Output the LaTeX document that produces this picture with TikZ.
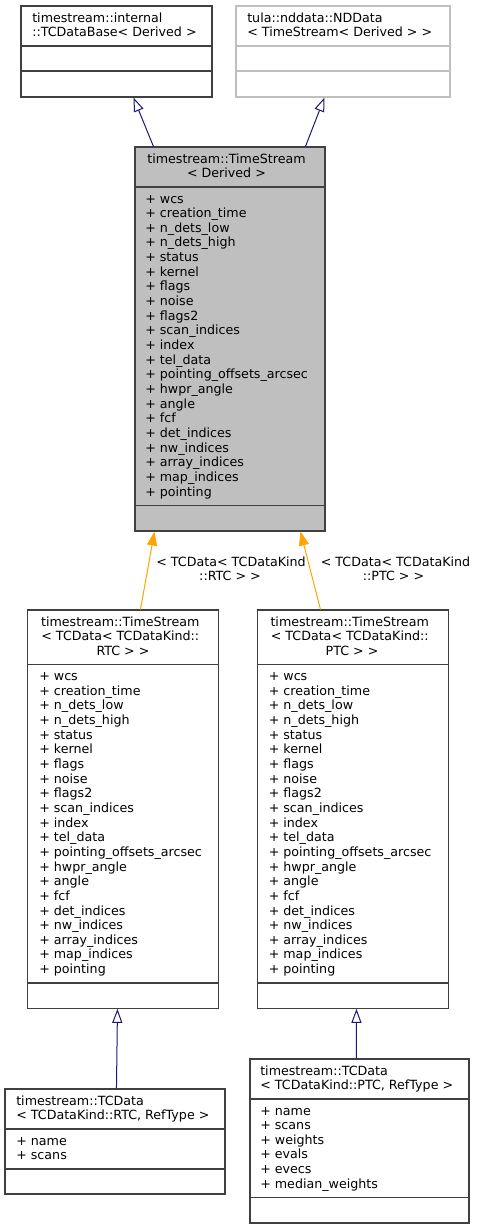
\documentclass[tikz,border=0pt]{standalone}
\usepackage{fontspec}
\setmainfont{DejaVu Sans}
\usetikzlibrary{fit,calc,arrows.meta}
\definecolor{boxline}{RGB}{64,64,64}
\definecolor{ghost}{RGB}{191,191,191}
\definecolor{rootfill}{RGB}{191,191,191}
\definecolor{navy}{RGB}{25,25,112}
\definecolor{orng}{RGB}{255,165,0}
\def\tslist{wcs,creation\_time,n\_dets\_low,n\_dets\_high,status,kernel,flags,noise,flags2,scan\_indices,index,tel\_data,pointing\_offsets\_arcsec,hwpr\_angle,angle,fcf,det\_indices,nw\_indices,array\_indices,map\_indices,pointing}
\begin{document}
\begin{tikzpicture}[x=0.75pt,y=-0.75pt,
  every node/.style={font=\fontsize{9.5}{11}\selectfont, inner sep=0pt},
  classbox/.style={draw=boxline, line width=0.8pt, fill=white, inner sep=0pt},
  ghostbox/.style={classbox, draw=ghost},
  rootbox/.style={classbox, fill=rootfill},
  divider/.style={draw=boxline, line width=0.8pt},
  ghostdivider/.style={draw=ghost, line width=0.8pt},
  txt/.style={anchor=base west},
  ctxt/.style={anchor=base},
  inh/.style={draw=navy, line width=0.75pt, -{Triangle[open, length=10.5pt, width=7.5pt]}},
  tmpl/.style={draw=orng, line width=0.75pt, -{Triangle[length=10.5pt, width=7.5pt]}},
  elabel/.style={anchor=base},
]
\useasboundingbox (0,0) rectangle (478,1229);

% ---------- boxes ----------
\node[classbox, fit={(21,6) (212,97)}] (A) {};
\node[ghostbox, fit={(236,6) (450,97)}] (B) {};
\node[rootbox, fit={(135,147) (325,531)}] (C) {};
\node[classbox, fit={(27.7,610) (218.7,1008.3)}] (D) {};
\node[classbox, fit={(257.3,610) (448.3,1008.3)}] (E) {};
\node[classbox, fit={(5,1089) (225,1194)}] (F) {};
\node[classbox, fit={(250,1059) (469,1223)}] (G) {};

% ---------- dividers ----------
\draw[divider] (A.west |- 0,46) -- (A.east |- 0,46);
\draw[divider] (A.west |- 0,71) -- (A.east |- 0,71);
\draw[ghostdivider] (B.west |- 0,46) -- (B.east |- 0,46);
\draw[ghostdivider] (B.west |- 0,71) -- (B.east |- 0,71);
\draw[divider] (C.west |- 0,187) -- (C.east |- 0,187);
\draw[divider] (C.west |- 0,505.5) -- (C.east |- 0,505.5);
\draw[divider] (D.west |- 0,664.6) -- (D.east |- 0,664.6);
\draw[divider] (D.west |- 0,983) -- (D.east |- 0,983);
\draw[divider] (E.west |- 0,664.6) -- (E.east |- 0,664.6);
\draw[divider] (E.west |- 0,983) -- (E.east |- 0,983);
\draw[divider] (F.west |- 0,1129) -- (F.east |- 0,1129);
\draw[divider] (F.west |- 0,1169) -- (F.east |- 0,1169);
\draw[divider] (G.west |- 0,1099) -- (G.east |- 0,1099);
\draw[divider] (G.west |- 0,1197.6) -- (G.east |- 0,1197.6);

% ---------- headers ----------
\node[txt] (Ah1) at (32,22) {timestream::internal};
\node[txt] (Ah2) at (32,36.65) {::TCDataBase< Derived >};
\node[txt] (Bh1) at (247,22) {tula::nddata::NDData};
\node[txt] (Bh2) at (247,36.65) {< TimeStream< Derived > >};
\node[ctxt] (Ch1) at (226.5,163) {timestream::TimeStream};
\node[ctxt] (Ch2) at (226.5,177.65) {< Derived >};
\node[ctxt] (Dh1) at (120.3,626) {timestream::TimeStream};
\node[ctxt] (Dh2) at (120.3,640.65) {< TCData< TCDataKind::};
\node[ctxt] (Dh3) at (123,655.3) {RTC > >};
\node[ctxt] (Eh1) at (349.7,626) {timestream::TimeStream};
\node[ctxt] (Eh2) at (349.7,640.65) {< TCData< TCDataKind::};
\node[ctxt] (Eh3) at (352,655.3) {PTC > >};
\node[txt] (Fh1) at (16,1105) {timestream::TCData};
\node[txt] (Fh2) at (16,1119.65) {< TCDataKind::RTC, RefType >};
\node[txt] (Gh1) at (260,1075) {timestream::TCData};
\node[txt] (Gh2) at (260,1089.65) {< TCDataKind::PTC, RefType >};

% ---------- members ----------
\foreach \t [count=\i from 0] in \tslist {
  \node[txt] (Cm\i) at (145,{203+\i*14.65}) {+ \t};
  \node[txt] (Dm\i) at (39,{680.6+\i*14.65}) {+ \t};
  \node[txt] (Em\i) at (268.5,{680.6+\i*14.65}) {+ \t};
}
\foreach \t [count=\i from 0] in {name,scans} {
  \node[txt] (Fm\i) at (16,{1145+\i*14.65}) {+ \t};
}
\foreach \t [count=\i from 0] in {name,scans,weights,evals,evecs,median\_weights} {
  \node[txt] (Gm\i) at (260,{1115+\i*14.65}) {+ \t};
}

% ---------- connectors ----------
\draw[inh] ($(C.north west)+(19,0)$) -- ($(A.south west)+(113,0)$);
\draw[inh] ($(C.north west)+(171,0)$) -- ($(B.south west)+(89,0)$);
\draw[tmpl] ($(D.north west)+(113.3,0)$) -- ($(C.south west)+(20,0)$);
\draw[tmpl] ($(E.north west)+(63.7,0)$) -- ($(C.south west)+(166,0)$);
\draw[inh] ($(F.north west)+(112,0)$) -- ($(D.south west)+(90.3,0)$);
\draw[inh] ($(G.north west)+(107,0)$) -- ($(E.south west)+(99.7,0)$);

% ---------- edge labels ----------
\node[elabel] (L1a) at (231,566.5) {< TCData< TCDataKind};
\node[elabel] (L1b) at (230,580.5) {::RTC > >};
\node[elabel] (L2a) at (395.5,566.5) {< TCData< TCDataKind};
\node[elabel] (L2b) at (393.5,580.5) {::PTC > >};
\end{tikzpicture}
\end{document}
